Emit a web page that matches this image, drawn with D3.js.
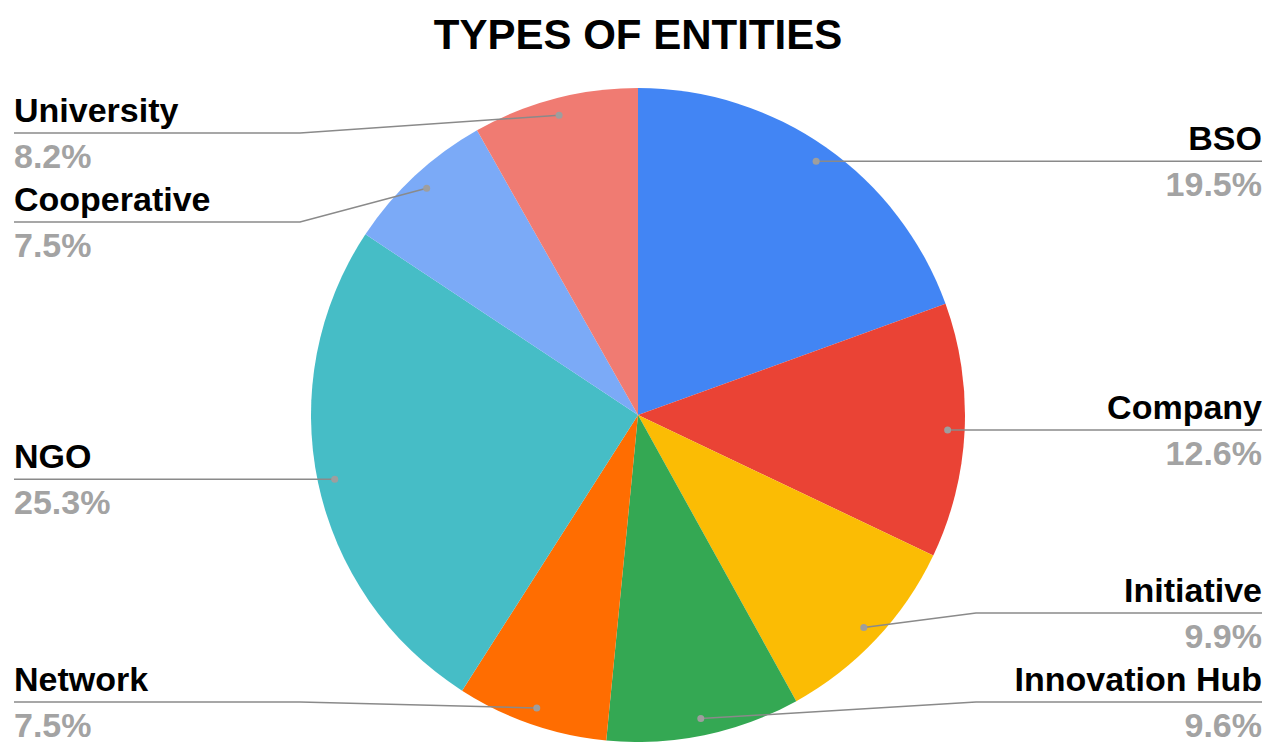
<!DOCTYPE html>
<html><head><meta charset="utf-8">
<script src="https://cdn.jsdelivr.net/npm/d3@7"></script>
<style>html,body{margin:0;padding:0;background:#fff;}svg{display:block;font-family:"Liberation Sans",Arial,sans-serif;}</style>
</head><body>
<svg id="chart" width="1279" height="742"></svg>
<script>
const title = "TYPES OF ENTITIES";
const categories = ["BSO","Company","Initiative","Innovation Hub","Network","NGO","Cooperative","University"];
const values = [19.5,12.6,9.9,9.6,7.5,25.3,7.5,8.2];
const colors = ["#4285F4","#EA4335","#FBBC04","#34A853","#FF6D01","#46BDC6","#7BAAF7","#F07B72"];

const W = 1279, H = 742;
const cx = 638, cy = 415, R = 327;
const svg = d3.select("#chart");

svg.append("text").attr("x", cx).attr("y", 49).attr("text-anchor","middle")
  .attr("font-size", 42).attr("font-weight","bold").attr("fill","#000").text(title);

const data = categories.map((c,i)=>({name:c, value:values[i], color:colors[i]}));
const pie = d3.pie().sort(null).value(d=>d.value).startAngle(0).endAngle(2*Math.PI);
const arcs = pie(data);
const arc = d3.arc().innerRadius(0).outerRadius(R);
const dotArc = d3.arc().innerRadius(310).outerRadius(310);

const g = svg.append("g").attr("transform",`translate(${cx},${cy})`);
g.selectAll("path").data(arcs).enter().append("path")
  .attr("d", arc).attr("fill", d=>d.data.color);

// label layout
const items = arcs.map(a=>{
  const [x,y] = dotArc.centroid(a);
  return {a, name:a.data.name, pct:a.data.value.toFixed(1)+"%", dx:x+cx, dy:y+cy, side:(x<0?"L":"R")};
});
const minY = 133, maxY = 702, gap = 89;
["L","R"].forEach(side=>{
  const s = items.filter(d=>d.side===side).sort((a,b)=>a.dy-b.dy);
  s.forEach(d=>d.ly=d.dy);
  for(let i=0;i<s.length;i++){
    const lo = i===0 ? minY : s[i-1].ly+gap;
    s[i].ly = Math.max(s[i].ly, lo);
  }
  for(let i=s.length-1;i>=0;i--){
    const hi = i===s.length-1 ? maxY : s[i+1].ly-gap;
    s[i].ly = Math.min(s[i].ly, hi);
  }
});

const elbowOff = R + 11;
const lab = svg.append("g");
items.forEach(d=>{
  const L = d.side==="L";
  const xEnd = L ? 14 : 1262;
  const xElbow = L ? cx-elbowOff : cx+elbowOff;
  let pts;
  if (Math.abs(d.ly-d.dy)<0.5) pts = [[xEnd,d.ly],[d.dx,d.dy]];
  else pts = [[xEnd,d.ly],[xElbow,d.ly],[d.dx,d.dy]];
  lab.append("path").attr("d", d3.line()(pts)).attr("fill","none")
    .attr("stroke","#8a8a8a").attr("stroke-width",1.5);
  lab.append("circle").attr("cx",d.dx).attr("cy",d.dy).attr("r",3.5).attr("fill","#9e9e9e");
  lab.append("text").attr("x",xEnd).attr("y",d.ly-11)
    .attr("text-anchor", L?"start":"end").attr("font-size",34).attr("font-weight","bold")
    .attr("fill","#000").text(d.name);
  lab.append("text").attr("x",xEnd).attr("y",d.ly+35)
    .attr("text-anchor", L?"start":"end").attr("font-size",34).attr("font-weight","bold")
    .attr("fill","#a3a3a3").text(d.pct);
});
</script>
</body></html>
